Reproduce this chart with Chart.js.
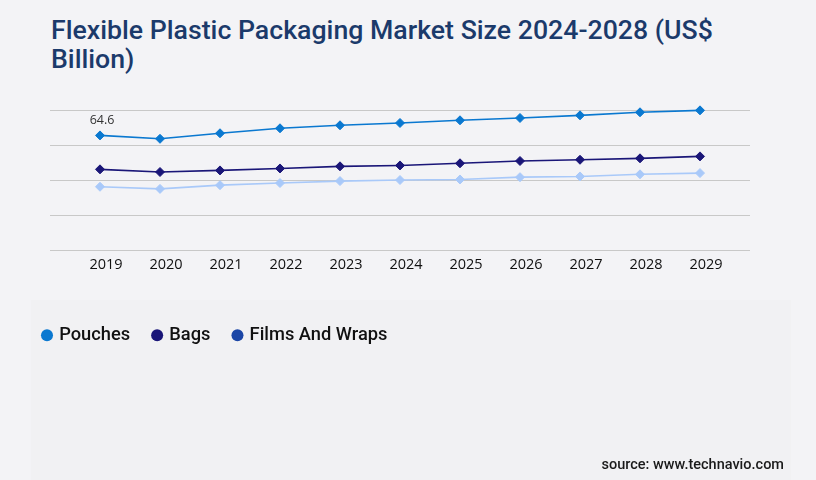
<!DOCTYPE html>
<html>
<head>
<meta charset="utf-8">
<script src="https://cdn.jsdelivr.net/npm/chart.js@4.4.1/dist/chart.umd.min.js"></script>
<style>
  html, body { margin: 0; padding: 0; background: #f3f3f6; }
  #wrap { position: relative; width: 816px; height: 480px; overflow: hidden; }
  #panel { position: absolute; left: 31px; top: 300px; width: 760px; height: 180px; background: #f1f1f3; }
  #title { position: absolute; left: 51px; top: 16px; font-family: Roboto, sans-serif; font-weight: 500; font-size: 26.7px; line-height: 29px; color: #1b3a6b; white-space: nowrap; }
  #source { position: absolute; right: 32px; top: 456px; font-family: Roboto, sans-serif; font-weight: 500; font-size: 14.5px; color: #1a1a1a; }
  #c { position: absolute; left: 0; top: 0; }
</style>
</head>
<body>
<div id="wrap">
  <div id="panel"></div>
  <div id="title">Flexible Plastic Packaging Market Size 2024-2028 (US$<br>Billion)</div>
  <canvas id="c" width="816" height="480"></canvas>
  <div id="source">source: www.technavio.com</div>
</div>
<script>
const years = ['2019','2020','2021','2022','2023','2024','2025','2026','2027','2028','2029'];
const seriesNames = ['Pouches', 'Bags', 'Films And Wraps'];
const pouches = [64.6, 62.7, 65.8, 68.6, 70.3, 71.6, 73.1, 74.4, 75.9, 77.6, 78.7];
const bags    = [45.5, 44.0, 44.9, 46.0, 47.2, 47.7, 48.9, 50.2, 50.9, 51.7, 52.8];
const films   = [35.7, 34.5, 36.6, 37.8, 38.9, 39.5, 39.8, 41.1, 41.5, 42.7, 43.4];
const lineColors = ['#0a78d0', '#1a1678', '#a9c9f9'];
const legendColors = ['#0a78d0', '#1a1678', '#1b46a6'];
const yMin = 0, yMax = 78.9;

const toPts = arr => arr.map((v, i) => ({ x: Number(years[i]), y: v }));
const seriesData = [pouches, bags, films];

const datasets = seriesData.map((arr, i) => ({
  label: seriesNames[i],
  data: toPts(arr),
  borderColor: lineColors[i],
  backgroundColor: lineColors[i],
  pointBackgroundColor: lineColors[i],
  pointBorderColor: lineColors[i],
  borderWidth: 1.6,
  pointStyle: 'rectRot',
  pointRadius: 4.5,
  pointBorderWidth: 1,
  tension: 0,
  clip: false
}));

const labelPlugin = {
  id: 'firstLabel',
  afterDatasetsDraw(chart) {
    const meta = chart.getDatasetMeta(0);
    const el = meta.data[0];
    const ctx = chart.ctx;
    ctx.save();
    ctx.font = '12.5px "Open Sans", sans-serif';
    ctx.fillStyle = '#333333';
    ctx.textAlign = 'center';
    ctx.textBaseline = 'middle';
    ctx.fillText(pouches[0].toFixed(1), el.x + 2, el.y - 15);
    ctx.restore();
  }
};

new Chart(document.getElementById('c'), {
  type: 'line',
  data: { datasets },
  options: {
    responsive: false,
    animation: false,
    devicePixelRatio: 1,
    layout: { padding: { left: 20, right: 66, top: 110, bottom: 125.5 } },
    scales: {
      x: {
        type: 'linear',
        min: Number(years[0]) - 50 / 60,
        max: Number(years[years.length - 1]) + 50 / 60,
        afterBuildTicks(axis) { axis.ticks = years.map(y => ({ value: Number(y) })); },
        afterFit(axis) { axis.height = 52; },
        grid: { display: false, drawTicks: false },
        border: { display: false },
        ticks: {
          padding: 6,
          labelOffset: 6,
          color: '#111111',
          font: { family: '"Open Sans", sans-serif', size: 14.5 },
          callback: (v) => String(v),
          maxRotation: 0,
          autoSkip: false
        }
      },
      y: {
        min: yMin,
        max: yMax,
        afterFit(axis) { axis.width = 30; },
        ticks: { display: false, count: 5 },
        grid: { color: '#c8c8c8', lineWidth: 1, drawTicks: false },
        border: { display: false }
      }
    },
    plugins: {
      tooltip: { enabled: false },
      legend: {
        position: 'bottom',
        align: 'start',
        labels: {
          usePointStyle: true,
          boxWidth: 6,
          boxHeight: 8.5,
          padding: 24,
          color: '#111111',
          font: { family: 'Roboto, sans-serif', size: 18.3, weight: 500 },
          generateLabels(chart) {
            return chart.data.datasets.map((ds, i) => ({
              text: ds.label,
              fillStyle: legendColors[i],
              strokeStyle: legendColors[i],
              lineWidth: 0,
              pointStyle: 'circle',
              hidden: false,
              datasetIndex: i,
              fontColor: '#111111'
            }));
          }
        }
      }
    }
  },
  plugins: [labelPlugin]
});
</script>
</body>
</html>
